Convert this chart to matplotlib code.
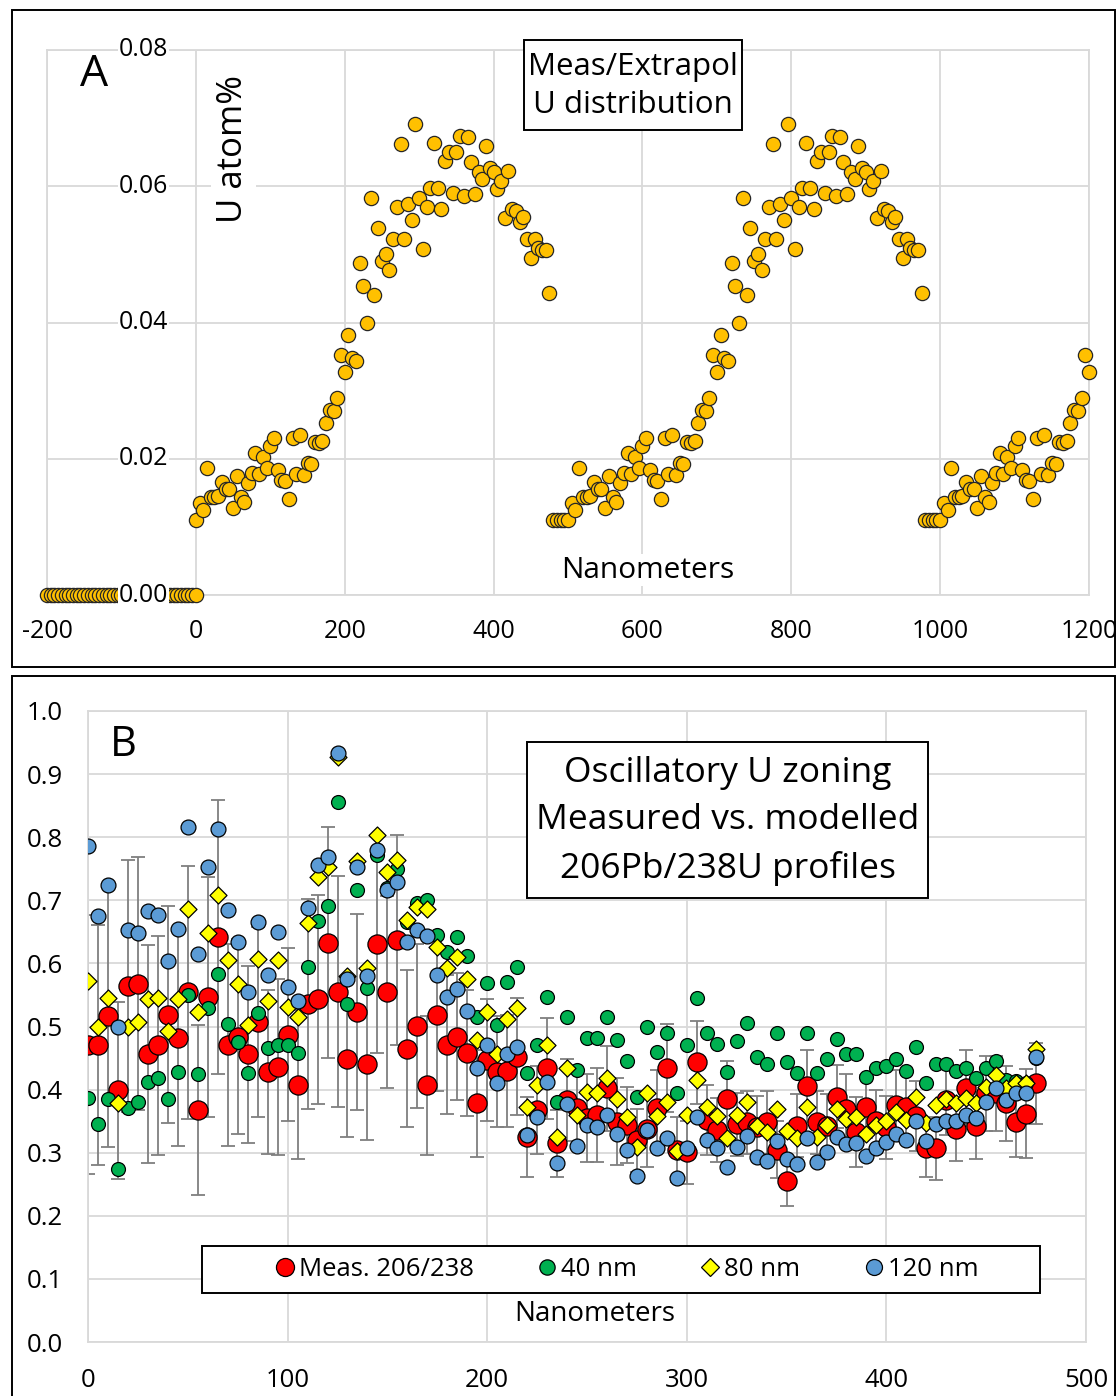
import matplotlib
matplotlib.use('Agg')
import matplotlib.pyplot as plt
from matplotlib.patches import Rectangle
from matplotlib.lines import Line2D

plt.rcParams['font.family'] = ['Open Sans', 'DejaVu Sans']
plt.rcParams['axes.unicode_minus'] = False

W, H, DPI = 1117, 1396, 100

# ---------------- Panel A data ----------------
profile_nm = list(range(0, 476, 5))
u_profile = [
    0.0110, 0.0135, 0.0125, 0.0187, 0.0144, 0.0144, 0.0146, 0.0166, 0.0155, 0.0155,
    0.0128, 0.0174, 0.0144, 0.0137, 0.0164, 0.0179, 0.0209, 0.0177, 0.0203, 0.0186,
    0.0218, 0.0230, 0.0184, 0.0169, 0.0167, 0.0141, 0.0230, 0.0178, 0.0235, 0.0176,
    0.0194, 0.0192, 0.0225, 0.0223, 0.0226, 0.0253, 0.0272, 0.0270, 0.0289, 0.0353,
    0.0328, 0.0382, 0.0348, 0.0343, 0.0488, 0.0453, 0.0400, 0.0583, 0.0441, 0.0538,
    0.0491, 0.0500, 0.0477, 0.0522, 0.0569, 0.0662, 0.0523, 0.0574, 0.0550, 0.0691,
    0.0583, 0.0508, 0.0569, 0.0597, 0.0664, 0.0598, 0.0566, 0.0637, 0.0650, 0.0590,
    0.0650, 0.0674, 0.0586, 0.0673, 0.0635, 0.0589, 0.0621, 0.0610, 0.0659, 0.0627,
    0.0621, 0.0596, 0.0608, 0.0554, 0.0622, 0.0566, 0.0563, 0.0547, 0.0555, 0.0522,
    0.0495, 0.0522, 0.0510, 0.0506, 0.0506, 0.0443,
]
zero_nm = list(range(-200, 1, 5))
u_zero = [0.0] * len(zero_nm)
gap_nm = [480, 485, 490, 495, 980, 985, 990, 995]
u_gap = [0.011] * len(gap_nm)
repeat_offsets = [500, 1000]
xmax_A = 1200

xticks_A = [-200, 0, 200, 400, 600, 800, 1000, 1200]
xlabels_A = ['-200', '0', '200', '400', '600', '800', '1000', '1200']
yticks_A = [0.0, 0.02, 0.04, 0.06, 0.08]
ylabels_A = ['0.00', '0.02', '0.04', '0.06', '0.08']

# ---------------- Panel B data ----------------
depth_nm = list(range(0, 476, 5))
meas_206_238 = [
    0.471, 0.471, 0.517, 0.399, 0.564, 0.568, 0.456, 0.470, 0.519, 0.481,
    0.554, 0.368, 0.547, 0.642, 0.470, 0.484, 0.456, 0.507, 0.428, 0.436,
    0.487, 0.408, 0.536, 0.543, 0.633, 0.555, 0.448, 0.523, 0.440, 0.631,
    0.555, 0.637, 0.465, 0.501, 0.407, 0.518, 0.471, 0.484, 0.458, 0.378,
    0.447, 0.428, 0.430, 0.452, 0.325, 0.368, 0.434, 0.315, 0.384, 0.371,
    0.355, 0.360, 0.402, 0.349, 0.344, 0.320, 0.337, 0.371, 0.434, 0.305,
    0.301, 0.443, 0.352, 0.336, 0.385, 0.345, 0.348, 0.340, 0.348, 0.305,
    0.255, 0.343, 0.406, 0.348, 0.343, 0.389, 0.370, 0.333, 0.373, 0.350,
    0.340, 0.376, 0.373, 0.358, 0.307, 0.307, 0.383, 0.337, 0.403, 0.343,
    0.394, 0.394, 0.378, 0.349, 0.362, 0.410,
]
meas_err = [
    0.205, 0.190, 0.208, 0.140, 0.200, 0.200, 0.173, 0.173, 0.172, 0.170,
    0.200, 0.135, 0.190, 0.217, 0.160, 0.155, 0.140, 0.150, 0.130, 0.140,
    0.137, 0.118, 0.166, 0.166, 0.183, 0.183, 0.123, 0.155, 0.120, 0.173,
    0.152, 0.166, 0.124, 0.130, 0.110, 0.120, 0.110, 0.100, 0.100, 0.085,
    0.096, 0.088, 0.089, 0.093, 0.063, 0.070, 0.080, 0.053, 0.065, 0.060,
    0.070, 0.075, 0.067, 0.069, 0.060, 0.050, 0.060, 0.060, 0.070, 0.052,
    0.050, 0.066, 0.055, 0.050, 0.060, 0.050, 0.050, 0.050, 0.050, 0.045,
    0.040, 0.050, 0.057, 0.050, 0.050, 0.050, 0.055, 0.056, 0.050, 0.050,
    0.050, 0.055, 0.055, 0.055, 0.045, 0.050, 0.055, 0.050, 0.060, 0.053,
    0.060, 0.060, 0.060, 0.056, 0.070, 0.064,
]
model_40nm = [
    0.387, 0.345, 0.385, 0.274, 0.371, 0.380, 0.412, 0.418, 0.385, 0.428,
    0.550, 0.424, 0.530, 0.583, 0.504, 0.476, 0.426, 0.521, 0.466, 0.470,
    0.470, 0.458, 0.595, 0.667, 0.691, 0.855, 0.536, 0.716, 0.561, 0.772,
    0.720, 0.750, 0.665, 0.695, 0.700, 0.645, 0.618, 0.642, 0.611, 0.515,
    0.569, 0.502, 0.571, 0.594, 0.426, 0.471, 0.547, 0.381, 0.515, 0.431,
    0.482, 0.482, 0.515, 0.479, 0.445, 0.388, 0.500, 0.460, 0.490, 0.395,
    0.471, 0.545, 0.490, 0.472, 0.428, 0.477, 0.506, 0.451, 0.441, 0.489,
    0.444, 0.427, 0.490, 0.426, 0.448, 0.480, 0.456, 0.456, 0.420, 0.434,
    0.437, 0.448, 0.430, 0.468, 0.411, 0.441, 0.441, 0.430, 0.434, 0.419,
    0.434, 0.446, 0.415, 0.413, 0.410, 0.450,
]
model_80nm = [
    0.572, 0.499, 0.545, 0.379, 0.500, 0.507, 0.543, 0.545, 0.493, 0.543,
    0.686, 0.523, 0.648, 0.708, 0.605, 0.567, 0.502, 0.607, 0.541, 0.606,
    0.531, 0.515, 0.664, 0.737, 0.753, 0.927, 0.580, 0.762, 0.592, 0.803,
    0.745, 0.764, 0.669, 0.690, 0.687, 0.626, 0.592, 0.610, 0.575, 0.479,
    0.523, 0.456, 0.512, 0.529, 0.373, 0.407, 0.471, 0.325, 0.434, 0.360,
    0.396, 0.394, 0.418, 0.385, 0.356, 0.309, 0.394, 0.358, 0.381, 0.303,
    0.360, 0.416, 0.373, 0.358, 0.323, 0.360, 0.380, 0.342, 0.333, 0.369,
    0.334, 0.323, 0.373, 0.325, 0.344, 0.370, 0.354, 0.357, 0.330, 0.344,
    0.350, 0.364, 0.352, 0.389, 0.347, 0.376, 0.385, 0.378, 0.386, 0.378,
    0.404, 0.423, 0.402, 0.410, 0.410, 0.465,
]
model_120nm = [
    0.786, 0.675, 0.725, 0.499, 0.653, 0.648, 0.683, 0.676, 0.604, 0.654,
    0.816, 0.615, 0.752, 0.813, 0.685, 0.634, 0.555, 0.666, 0.582, 0.649,
    0.563, 0.540, 0.688, 0.756, 0.769, 0.933, 0.575, 0.753, 0.580, 0.780,
    0.716, 0.729, 0.634, 0.653, 0.643, 0.582, 0.547, 0.559, 0.524, 0.434,
    0.471, 0.410, 0.456, 0.468, 0.328, 0.357, 0.412, 0.283, 0.377, 0.311,
    0.344, 0.340, 0.360, 0.330, 0.304, 0.263, 0.336, 0.307, 0.323, 0.260,
    0.307, 0.356, 0.320, 0.307, 0.277, 0.309, 0.326, 0.293, 0.287, 0.318,
    0.290, 0.282, 0.324, 0.285, 0.301, 0.325, 0.313, 0.316, 0.294, 0.307,
    0.317, 0.330, 0.320, 0.351, 0.318, 0.346, 0.351, 0.350, 0.359, 0.355,
    0.380, 0.402, 0.383, 0.394, 0.394, 0.451,
]
series_labels = ['Meas. 206/238', '40 nm', '80 nm', '120 nm']
xticks_B = [0, 100, 200, 300, 400, 500]
yticks_B = [0.0, 0.1, 0.2, 0.3, 0.4, 0.5, 0.6, 0.7, 0.8, 0.9, 1.0]

GRID = '#D9D9D9'


def fx(px):
    return px / W


def fy(py):
    return 1 - py / H


fig = plt.figure(figsize=(W / DPI, H / DPI), dpi=DPI)
fig.patch.set_facecolor('white')

# ======================= Panel A =======================
axA = fig.add_axes([fx(47), fy(595), (1089 - 47) / W, (595 - 50) / H])
axA.set_xlim(-200, 1200)
axA.set_ylim(0, 0.08)
axA.set_xticks(xticks_A)
axA.set_xticklabels(xlabels_A, fontsize=18)
axA.set_yticks(yticks_A)
axA.set_yticklabels([])
axA.tick_params(length=0, pad=17)
axA.grid(True, color=GRID, lw=1.3, zorder=0)
axA.set_axisbelow(True)
for s in axA.spines.values():
    s.set_color(GRID)
    s.set_linewidth(1.3)

xs, ys = list(zero_nm), list(u_zero)
xs += profile_nm
ys += u_profile
for k, off in enumerate(repeat_offsets):
    xs += gap_nm[4 * k:4 * k + 4]
    ys += u_gap[4 * k:4 * k + 4]
    for x, v in zip(profile_nm, u_profile):
        if x + off <= xmax_A:
            xs.append(x + off)
            ys.append(v)
axA.scatter(xs, ys, s=105, c='#FFC000', edgecolors='#262626', linewidths=0.9,
            zorder=3, clip_on=False)

for v, lab in zip(yticks_A, ylabels_A):
    axA.text(-37, v, lab, ha='right', va='center', fontsize=18, zorder=6,
             bbox=dict(fc='white', ec='none', pad=0.5))

axA.text(50, 0.0655, 'U atom%', rotation=90, ha='center', va='center',
         fontsize=25, zorder=6, bbox=dict(fc='white', ec='none', pad=4))

fig.text(fx(94), fy(75), 'A', fontsize=32, ha='center', va='center')
fig.patches.append(Rectangle((fx(524), fy(130)), (742 - 524) / W, (130 - 40) / H,
                             transform=fig.transFigure, fc='white', ec='black',
                             lw=1.4, zorder=4))
fig.text(fx(633), fy(86), 'Meas/Extrapol\nU distribution', ha='center',
         va='center', fontsize=22.5, linespacing=1.38, zorder=5)
fig.text(fx(648), fy(570), 'Nanometers', ha='center', va='center', fontsize=21.5,
         zorder=5, bbox=dict(fc='white', ec='none', pad=1))

# ======================= Panel B =======================
axB = fig.add_axes([fx(88), fy(1342), (1086 - 88) / W, (1342 - 711) / H])
axB.set_xlim(0, 500)
axB.set_ylim(0, 1.0)
axB.set_xticks(xticks_B)
axB.set_xticklabels([str(t) for t in xticks_B], fontsize=18.5)
axB.set_yticks(yticks_B)
axB.set_yticklabels(['%.1f' % t for t in yticks_B], fontsize=18.5)
axB.tick_params(axis='x', length=0, pad=19)
axB.tick_params(axis='y', length=0, pad=18)
axB.grid(True, color=GRID, lw=1.3, zorder=0)
axB.set_axisbelow(True)
for s in axB.spines.values():
    s.set_color(GRID)
    s.set_linewidth(1.3)

axB.errorbar(depth_nm, meas_206_238, yerr=meas_err, fmt='none', ecolor='#7F7F7F',
             elinewidth=1.3, capsize=5, capthick=1.3, zorder=2)
axB.scatter(depth_nm, meas_206_238, s=190, marker='o', c='#FF0000',
            edgecolors='black', linewidths=0.9, zorder=3)
axB.scatter(depth_nm, model_40nm, s=100, marker='o', c='#00B050',
            edgecolors='black', linewidths=0.9, zorder=4)
axB.scatter(depth_nm, model_80nm, s=75, marker='D', c='#FFFF00',
            edgecolors='black', linewidths=0.9, zorder=5)
axB.scatter(depth_nm, model_120nm, s=115, marker='o', c='#5B9BD5',
            edgecolors='black', linewidths=0.9, zorder=6)

fig.text(fx(123), fy(745), 'B', fontsize=30, ha='center', va='center')
fig.patches.append(Rectangle((fx(527), fy(898)), (928 - 527) / W, (898 - 742) / H,
                             transform=fig.transFigure, fc='white', ec='black',
                             lw=1.4, zorder=4))
fig.text(fx(727.5), fy(821), 'Oscillatory U zoning\nMeasured vs. modelled\n206Pb/238U profiles',
         ha='center', va='center', fontsize=25.5, linespacing=1.5, zorder=5)
fig.text(fx(595), fy(1314), 'Nanometers', ha='center', va='center', fontsize=20,
         zorder=5)

# legend
fig.patches.append(Rectangle((fx(202), fy(1293)), (1040 - 202) / W, (1293 - 1246) / H,
                             transform=fig.transFigure, fc='white', ec='black',
                             lw=1.4, zorder=4))
handles = [
    Line2D([], [], ls='none', marker='o', ms=13, mfc='#FF0000', mec='black', mew=0.9),
    Line2D([], [], ls='none', marker='o', ms=11, mfc='#00B050', mec='black', mew=0.9),
    Line2D([], [], ls='none', marker='D', ms=8.8, mfc='#FFFF00', mec='black', mew=0.9),
    Line2D([], [], ls='none', marker='o', ms=11.5, mfc='#5B9BD5', mec='black', mew=0.9),
]
leg = fig.legend(handles, series_labels, ncol=4, loc='center',
                 bbox_to_anchor=(fx(627), fy(1269.5)), bbox_transform=fig.transFigure,
                 frameon=False, fontsize=18.5, handlelength=0.7, handletextpad=0.2,
                 columnspacing=2.5, borderpad=0)
leg.set_zorder(6)

# panel frames
fig.patches.append(Rectangle((fx(12), fy(667)), (1115 - 12) / W, (667 - 10) / H,
                             transform=fig.transFigure, fill=False, ec='black',
                             lw=1.4, zorder=7))
fig.patches.append(Rectangle((fx(12), fy(1400)), (1115 - 12) / W, (1400 - 676) / H,
                             transform=fig.transFigure, fill=False, ec='black',
                             lw=1.4, zorder=7))

fig.savefig('out.png', dpi=DPI)
